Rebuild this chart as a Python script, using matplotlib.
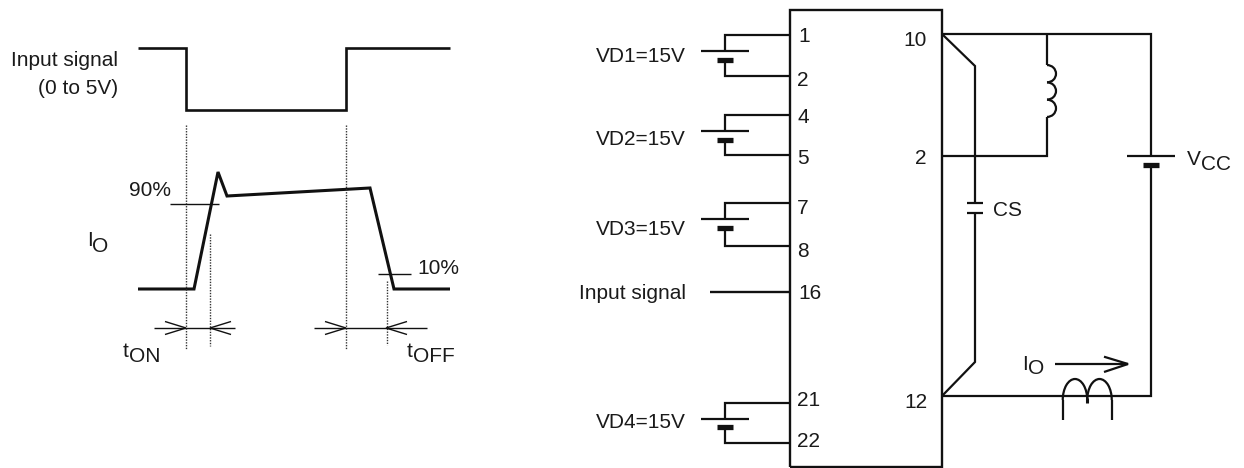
import matplotlib
matplotlib.use("Agg")
import matplotlib.pyplot as plt
from matplotlib.patches import Arc

# everything below is in picture pixels, y going down
W, H = 1244, 468

input_x = [138, 186, 186, 346, 346, 450]
input_y = [48, 48, 110, 110, 48, 48]
io_x = [138, 194, 218, 227, 370, 394, 450]
io_y = [289, 289, 172, 196, 188, 289, 289]

# x, top, bottom
dotted = [(186, 125, 350), (346, 125, 350), (210, 234, 346), (386.5, 281, 345)]

# pin wire top, pin wire bottom, plate y, wire x
batteries = [(35, 76, 51, 725), (115, 155, 131, 725), (203, 246, 219, 725), (402.5, 442.5, 418.5, 724.5)]
battery_names = ["VD1=15V", "VD2=15V", "VD3=15V", "VD4=15V"]
battery_label_y = [55, 138, 228, 421]

left_pins = ["1", "2", "4", "5", "7", "8", "16", "21", "22"]
left_pin_x = [798, 797, 797, 797, 797, 797, 798, 797, 797]
left_pin_y = [35, 79, 116, 157, 207, 250, 292, 399, 440]
right_pins = ["10", "2", "12"]
right_pin_y = [39, 157, 401]

FS = 15
plt.rcParams["font.family"] = ["Liberation Sans", "DejaVu Sans"]

fig = plt.figure(figsize=(W / 100, H / 100), dpi=100)
ax = fig.add_axes([0, 0, 1, 1])
ax.set_xlim(0, W)
ax.set_ylim(H, 0)
ax.axis("off")


def wire(xs, ys, lw=1.6, **kw):
    kw.setdefault("solid_joinstyle", "miter")
    kw.setdefault("solid_capstyle", "butt")
    ax.plot(xs, ys, color="#111111", lw=lw, **kw)


def label(x, y, s, ha="left", va="baseline"):
    # centred labels sit a touch low in the reference
    if va == "center":
        y += 1.5
    ax.text(x, y, s, ha=ha, va=va, fontsize=FS, color="#1a1a1a")


def cell(x, y, half_long=24, half_short=8):
    # long thin plate then short thick one
    wire([x - half_long, x + half_long], [y, y])
    wire([x - half_short, x + half_short], [y + 8.5, y + 8.5], lw=3.8)


def double_arrow(x0, x1, xa, xb, y):
    wire([x0, x1], [y, y], lw=1)
    wire([xa - 21, xa, xa - 21], [y - 6.5, y, y + 6.5], lw=1)
    wire([xb + 21, xb, xb + 21], [y - 6.5, y, y + 6.5], lw=1)


# timing diagram
wire(input_x, input_y, lw=1.9)
wire(io_x, io_y, lw=2.2)
for x, top, bottom in dotted:
    ax.plot([x, x], [top, bottom], color="#333333", lw=1.0, ls=(0, (1, 1)))
wire([170, 219], [204, 204], lw=1)
wire([378, 411], [274, 274], lw=1)
double_arrow(154, 235, 186, 210, 328)
double_arrow(314, 427, 346, 386, 328)

label(118, 66, "Input signal", ha="right")
label(118, 94, "(0 to 5V)", ha="right")
label(129, 196, "90%")
label(417, 274, "10%")
label(87, 246, "I")
label(92, 252, "O")
label(123, 357, "t")
label(129, 362, "ON")
label(407, 357, "t")
label(413, 362, "OFF")

# module outline
wire([790, 790, 942, 942, 790], [467, 10, 10, 467, 467], lw=1.7)

# gate supplies
for (top, bottom, plate, x), name, ly in zip(batteries, battery_names, battery_label_y):
    wire([790, x, x], [top, top, plate])
    wire([x, x, 790], [plate + 8.5, bottom, bottom])
    cell(x, plate)
    label(686, ly, name, ha="right", va="center")
wire([710, 790], [292, 292], lw=1.7)
label(686, 292, "Input signal", ha="right", va="center")

for s, x, y in zip(left_pins, left_pin_x, left_pin_y):
    label(x, y, s, va="center")
for s, y in zip(right_pins, right_pin_y):
    label(927, y, s, ha="right", va="center")

# main circuit
wire([942, 1151, 1151], [34, 34, 156])
wire([1151, 1151, 942], [164, 396, 396])
cell(1151, 156)
label(1187, 165, "V")
label(1201, 170.5, "CC")

# snubber
wire([942, 975, 975], [34, 66, 203])
wire([975, 975, 942], [213, 362, 396])
wire([967, 983], [203, 203])
wire([967, 983], [213, 213])
label(993, 209, "CS", va="center")

# load inductor
wire([1047, 1047], [34, 65])
wire([1047, 1047, 942], [117, 156, 156])
for yc in [73.7, 91, 108.3]:
    ax.add_patch(Arc((1047, yc), 18, 17.3, theta1=-90, theta2=90, lw=1.6, color="#111111"))

# current transformer
for xc in [1075, 1099.5]:
    ax.add_patch(Arc((xc, 400), 24.5, 42, theta1=180, theta2=360, lw=1.6, color="#111111"))
wire([1063, 1063], [400, 420])
wire([1111.7, 1111.7], [400, 420])
wire([1087.2, 1087.2], [398, 403], lw=2.2)

wire([1055, 1128], [364, 364])
wire([1104, 1128, 1104], [356.7, 364, 372])
label(1022.5, 370, "I")
label(1028, 374, "O")

fig.savefig("out.png", dpi=100)
